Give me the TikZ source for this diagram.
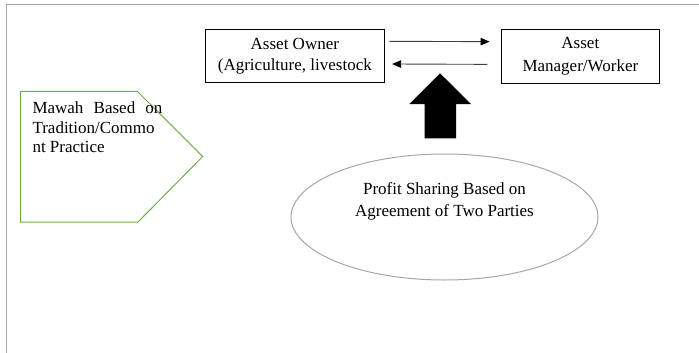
\documentclass[tikz,border=0pt]{standalone}
\usepackage{fontspec}
\setmainfont{Liberation Serif}
\usetikzlibrary{arrows.meta,shapes.geometric}
\definecolor{framegray}{HTML}{A6A6A6}
\definecolor{officegreen}{HTML}{70AD47}
\definecolor{arrowgray}{HTML}{404040}
\begin{document}
\begin{tikzpicture}[x=1pt,y=-1pt,
  txt/.style={font=\fontsize{17}{21}\selectfont, inner sep=0pt},
  boxnode/.style={draw=black, line width=0.9pt, rectangle, inner sep=0pt, align=center},
  conn/.style={draw=arrowgray, line width=0.9pt, -{Triangle[length=9pt,width=7.5pt,color=black]}},
  ]
\useasboundingbox (0,0) rectangle (699,353);
% frame
\draw[framegray, line width=1pt] (6.3,353) -- (6.3,4.3) -- (699,4.3);
% boxes
\node[boxnode, txt, minimum width=178.3pt, minimum height=53pt] (owner) at (294.85,55.8)
  {Asset Owner\\(Agriculture, livestock};
\node[boxnode, txt, font=\fontsize{17}{22.3}\selectfont, minimum width=157.3pt, minimum height=53.7pt] (manager) at (580.35,56.15)
  {Asset\\Manager/Worker};
% connectors
\draw[conn] ([xshift=5pt,yshift=14.5pt]owner.east) -- ([xshift=-11.7pt,yshift=14.5pt]manager.west);
\draw[conn] ([xshift=-14pt,yshift=-8.2pt]manager.west) -- ([xshift=7.7pt,yshift=-8.2pt]owner.east);
% green pentagon
\draw[officegreen, line width=1pt] (20.7,91.3) -- (137.3,91.3) -- (202.7,156.5) -- (138,222) -- (20.7,222) -- cycle;
\node[txt, font=\fontsize{17}{19.5}\selectfont, anchor=north west, align=left] (mawah) at (32.3,101.7)
  {\makebox[130pt][s]{Mawah\hfill Based\hfill on}\\Tradition/Commo\\nt Practice};
% block arrow
\fill[black] (440,73.3) -- (471,104) -- (456,104) -- (456,138.3) -- (424.7,138.3) -- (424.7,104) -- (409.3,104) -- cycle;
% ellipse
\node[draw=framegray, line width=1pt, ellipse, minimum width=307pt, minimum height=126pt, inner sep=0pt] (profit) at (444.5,217) {};
\node[txt, font=\fontsize{17}{22.7}\selectfont, align=center] (profittext) at (444.5,201.4)
  {Profit Sharing Based on\\Agreement of Two Parties};
\end{tikzpicture}
\end{document}
